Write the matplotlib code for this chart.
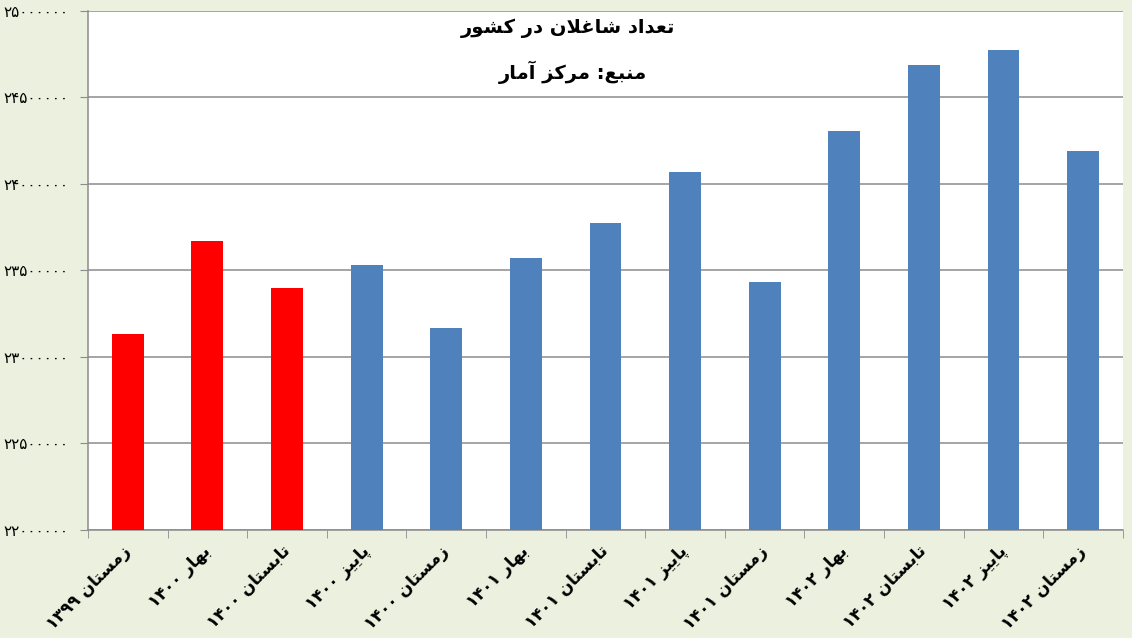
import matplotlib
matplotlib.use('Agg')
import matplotlib.pyplot as plt

fasl = ['زمستان ۱۳۹۹', 'بهار ۱۴۰۰', 'تابستان ۱۴۰۰', 'پاییز ۱۴۰۰', 'زمستان ۱۴۰۰',
        'بهار ۱۴۰۱', 'تابستان ۱۴۰۱', 'پاییز ۱۴۰۱', 'زمستان ۱۴۰۱',
        'بهار ۱۴۰۲', 'تابستان ۱۴۰۲', 'پاییز ۱۴۰۲', 'زمستان ۱۴۰۲']
shaghelan = [23130000, 23668000, 23401000, 23529000, 23170000,
             23571000, 23775000, 24071000, 23432000,
             24304000, 24688000, 24775000, 24193000]
tedad_ghermez = 3  # سه فصل اول قرمز

titr = 'تعداد شاغلان در کشور'
manba = 'منبع: مرکز آمار'

# matplotlib حروف فارسی را به هم نمی چسباند، پس شکل حروف دستی انتخاب می شود
# (جدا، آخر، اول، وسط)
FORMS = {
    'ا': ('\uFE8D', '\uFE8E', None, None),
    'آ': ('\uFE81', '\uFE82', None, None),
    'ب': ('\uFE8F', '\uFE90', '\uFE91', '\uFE92'),
    'پ': ('\uFB56', '\uFB57', '\uFB58', '\uFB59'),
    'ت': ('\uFE95', '\uFE96', '\uFE97', '\uFE98'),
    'د': ('\uFEA9', '\uFEAA', None, None),
    'ر': ('\uFEAD', '\uFEAE', None, None),
    'ز': ('\uFEAF', '\uFEB0', None, None),
    'س': ('\uFEB1', '\uFEB2', '\uFEB3', '\uFEB4'),
    'ش': ('\uFEB5', '\uFEB6', '\uFEB7', '\uFEB8'),
    'ع': ('\uFEC9', '\uFECA', '\uFECB', '\uFECC'),
    'غ': ('\uFECD', '\uFECE', '\uFECF', '\uFED0'),
    'ک': ('\uFB8E', '\uFB8F', '\uFB90', '\uFB91'),
    'ل': ('\uFEDD', '\uFEDE', '\uFEDF', '\uFEE0'),
    'م': ('\uFEE1', '\uFEE2', '\uFEE3', '\uFEE4'),
    'ن': ('\uFEE5', '\uFEE6', '\uFEE7', '\uFEE8'),
    'ه': ('\uFEE9', '\uFEEA', '\uFEEB', '\uFEEC'),
    'و': ('\uFEED', '\uFEEE', None, None),
    'ی': ('\uFBFC', '\uFBFD', '\uFBFE', '\uFBFF'),
}
LAM_ALEF = ('\uFEFB', '\uFEFC')
DIGITS = '۰۱۲۳۴۵۶۷۸۹'


def joins_next(c):
    return c in FORMS and FORMS[c][2] is not None


def farsi(text):
    out = []
    prev = False
    i = 0
    while i < len(text):
        c = text[i]
        if c not in FORMS:
            out.append(c)
            prev = False
            i += 1
            continue
        if c == 'ل' and i + 1 < len(text) and text[i + 1] == 'ا':
            out.append(LAM_ALEF[1] if prev else LAM_ALEF[0])
            prev = False
            i += 2
            continue
        nxt = text[i + 1] if i + 1 < len(text) else ''
        after = joins_next(c) and nxt in FORMS
        f = FORMS[c]
        if prev and after:
            out.append(f[3])
        elif prev:
            out.append(f[1])
        elif after:
            out.append(f[2])
        else:
            out.append(f[0])
        prev = joins_next(c)
        i += 1
    # راست به چپ: کل متن برعکس، ولی عددها سر جای خودشان
    s = ''.join(out)[::-1]
    res, run = [], ''
    for ch in s:
        if ch in DIGITS:
            run += ch
        else:
            res.append(run[::-1])
            run = ''
            res.append(ch)
    res.append(run[::-1])
    return ''.join(res)


def adad(v):
    return ''.join(DIGITS[int(d)] for d in str(int(v)))


plt.rcParams['font.family'] = ['DejaVu Sans']

fig = plt.figure(figsize=(11.32, 6.38), dpi=100, facecolor='#ebf1de')
ax = fig.add_axes([0.0777, 0.1693, 0.9143, 0.8135])

x = list(range(len(fasl)))
rang = ['#ff0000' if i < tedad_ghermez else '#4f81bd' for i in x]
ax.bar(x, shaghelan, width=0.4, color=rang, zorder=3)

ax.set_xlim(-0.5, len(fasl) - 0.5)
ax.set_ylim(22000000, 25000000)
yt = list(range(22000000, 25000001, 500000))
ax.set_yticks(yt)
ax.set_yticklabels([adad(v) for v in yt], fontsize=11)
ax.yaxis.grid(True, color='#8c8c8c', linewidth=1.1, zorder=0)
ax.tick_params(axis='y', length=6, color='#8c8c8c', pad=8)

ax.set_xticks(x)
ax.set_xticklabels([farsi(f) for f in fasl], rotation=45, ha='right', va='center',
                   rotation_mode='anchor', fontsize=12, fontweight='bold')
ax.tick_params(axis='x', length=0, pad=13)
ax.set_xticks([i - 0.5 for i in range(len(fasl) + 1)], minor=True)
ax.tick_params(axis='x', which='minor', length=6, color='#8c8c8c')

for s in ['top', 'right']:
    ax.spines[s].set_visible(False)
for s in ['left', 'bottom']:
    ax.spines[s].set_color('#8c8c8c')
    ax.spines[s].set_linewidth(1.1)

ax.text(0.464, 0.967, farsi(titr), transform=ax.transAxes, ha='center', va='center',
        fontsize=14, fontweight='bold')
ax.text(0.469, 0.882, farsi(manba), transform=ax.transAxes, ha='center', va='center',
        fontsize=14, fontweight='bold')

fig.savefig('out.png', dpi=100, facecolor=fig.get_facecolor())
